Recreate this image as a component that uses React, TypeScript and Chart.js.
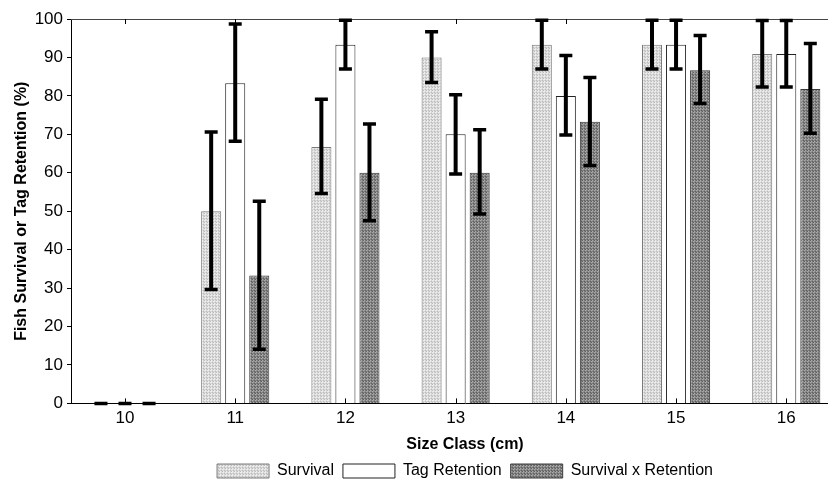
import React, { useEffect, useRef } from 'react';
import { Chart, registerables } from 'chart.js';

Chart.register(...registerables);

// ---- data ----
const categories = [10, 11, 12, 13, 14, 15, 16];
const seriesNames = ['Survival', 'Tag Retention', 'Survival x Retention'];

const survival = [0, 50, 66.7, 90, 93.3, 93.3, 90.9];
const tagRetention = [0, 83.3, 93.3, 70, 80, 93.3, 90.9];
const survivalXRetention = [0, 33.3, 60, 60, 73.3, 86.7, 81.8];

const survivalLow = [0, 29.6, 54.6, 83.5, 87.0, 87.0, 82.3];
const survivalHigh = [0, 70.6, 79.1, 96.7, 99.7, 99.7, 99.6];
const tagLow = [0, 68.2, 87.0, 59.7, 69.8, 87.0, 82.3];
const tagHigh = [0, 98.7, 99.7, 80.3, 90.5, 99.7, 99.6];
const sxrLow = [0, 14.1, 47.5, 49.3, 61.9, 78.0, 70.3];
const sxrHigh = [0, 52.6, 72.7, 71.2, 84.8, 95.7, 93.6];

const errLows = [survivalLow, tagLow, sxrLow];
const errHighs = [survivalHigh, tagHigh, sxrHigh];

const yAxisTitle = 'Fish Survival or Tag Retention (%)';
const xAxisTitle = 'Size Class (cm)';

const FONT = "'Liberation Sans', Arial, Helvetica, sans-serif";

function makePattern(rows: string[][]): CanvasPattern | string {
  const c = document.createElement('canvas');
  c.width = rows[0].length;
  c.height = rows.length;
  const g = c.getContext('2d');
  if (!g) return '#ccc';
  rows.forEach((row, y) =>
    row.forEach((col, x) => {
      g.fillStyle = col;
      g.fillRect(x, y, 1, 1);
    })
  );
  return g.createPattern(c, 'repeat') || '#ccc';
}

const overlayPlugin = {
  id: 'overlay',
  afterDatasetsDraw(chart: any) {
    const { ctx, chartArea, scales } = chart;
    const xs = scales.x;
    const ys = scales.y;
    ctx.save();
    // top frame line
    ctx.strokeStyle = '#444';
    ctx.lineWidth = 1;
    ctx.beginPath();
    ctx.moveTo(chartArea.left, Math.round(chartArea.top) + 0.5);
    ctx.lineTo(chartArea.right, Math.round(chartArea.top) + 0.5);
    ctx.stroke();
    // inner ticks top and bottom
    ctx.strokeStyle = '#000';
    categories.forEach((v) => {
      const px = Math.round(xs.getPixelForValue(v)) + 0.5;
      ctx.beginPath();
      ctx.moveTo(px, chartArea.top);
      ctx.lineTo(px, chartArea.top + 5);
      ctx.moveTo(px, chartArea.bottom);
      ctx.lineTo(px, chartArea.bottom - 5);
      ctx.stroke();
    });
    // error bars
    ctx.strokeStyle = '#000';
    chart.data.datasets.forEach((_ds: any, i: number) => {
      const meta = chart.getDatasetMeta(i);
      meta.data.forEach((bar: any, j: number) => {
        const x = bar.x;
        const yl = ys.getPixelForValue(errLows[i][j]);
        const yh = ys.getPixelForValue(errHighs[i][j]);
        ctx.lineWidth = 4;
        ctx.lineCap = 'butt';
        ctx.beginPath();
        ctx.moveTo(x, yl);
        ctx.lineTo(x, yh);
        ctx.stroke();
        ctx.lineWidth = 3.5;
        ctx.beginPath();
        ctx.moveTo(x - 6.5, yl);
        ctx.lineTo(x + 6.5, yl);
        ctx.moveTo(x - 6.5, yh);
        ctx.lineTo(x + 6.5, yh);
        ctx.stroke();
      });
    });
    ctx.restore();
  },
};

export default function App() {
  const ref = useRef<HTMLCanvasElement | null>(null);

  useEffect(() => {
    document.body.style.margin = '0';
    const canvas = ref.current;
    if (!canvas) return;

    const L = '#ececec', M = '#d6d6d6', D = '#bcbcbc';
    const lightPattern = makePattern([
      [D, L, M],
      [L, L, M],
      [M, M, D],
    ]);
    const a = '#aaaaaa', b = '#808080', c = '#969696', d = '#606060';
    const darkPattern = makePattern([
      [d, a, b],
      [a, c, b],
      [b, b, d],
    ]);

    const values = [survival, tagRetention, survivalXRetention];
    const fills = [lightPattern, '#ffffff', darkPattern];
    const borders = ['#7a7a7a', '#222222', '#3a3a3a'];

    const chart = new Chart(canvas, {
      type: 'bar',
      data: {
        datasets: values.map((vals, i) => ({
          label: seriesNames[i],
          data: categories.map((cat, j) => ({ x: cat, y: vals[j] })),
          backgroundColor: fills[i] as any,
          borderColor: borders[i],
          borderWidth: 1,
          categoryPercentage: 0.6545,
          barPercentage: 0.8333,
        })),
      },
      options: {
        responsive: false,
        animation: false,
        events: [],
        layout: { padding: { top: 19, left: 0, right: 1, bottom: -6 } },
        font: { family: FONT },
        plugins: {
          tooltip: { enabled: false },
          legend: {
            position: 'bottom',
            fullSize: false,
            labels: {
              boxWidth: 52,
              boxHeight: 14,
              padding: 9,
              color: '#000',
              font: { family: FONT, size: 16 },
            },
          },
        },
        scales: {
          x: {
            type: 'linear',
            min: 9.51,
            max: 16.66,
            offset: false,
            grid: { display: false, drawTicks: false },
            border: { display: true, color: '#000', width: 1 },
            afterBuildTicks: (scale: any) => {
              scale.ticks = categories.map((v) => ({ value: v }));
            },
            ticks: {
              color: '#000',
              padding: 5,
              font: { family: FONT, size: 17 },
              callback: (v: any) => String(v),
            },
            title: {
              display: true,
              text: xAxisTitle,
              color: '#000',
              font: { family: FONT, size: 16, weight: 'bold' },
              padding: { top: 1, bottom: 0 },
            },
          },
          y: {
            min: 0,
            max: 100,
            grid: {
              display: true,
              drawOnChartArea: false,
              drawTicks: true,
              tickLength: 4,
              color: '#000',
            },
            border: { display: true, color: '#000', width: 1 },
            ticks: {
              stepSize: 10,
              color: '#000',
              padding: 4,
              font: { family: FONT, size: 17 },
            },
            title: {
              display: true,
              text: yAxisTitle,
              color: '#000',
              font: { family: FONT, size: 16, weight: 'bold' },
              padding: { top: 12, bottom: 0 },
            },
            afterFit: (scale: any) => {
              scale.width = 71;
            },
          },
        },
      } as any,
      plugins: [overlayPlugin],
    });
    return () => chart.destroy();
  }, []);

  return (
    <div style={{ width: 828, height: 483, overflow: 'hidden', position: 'relative' }}>
      <canvas ref={ref} width={860} height={483} style={{ display: 'block' }} />
    </div>
  );
}
